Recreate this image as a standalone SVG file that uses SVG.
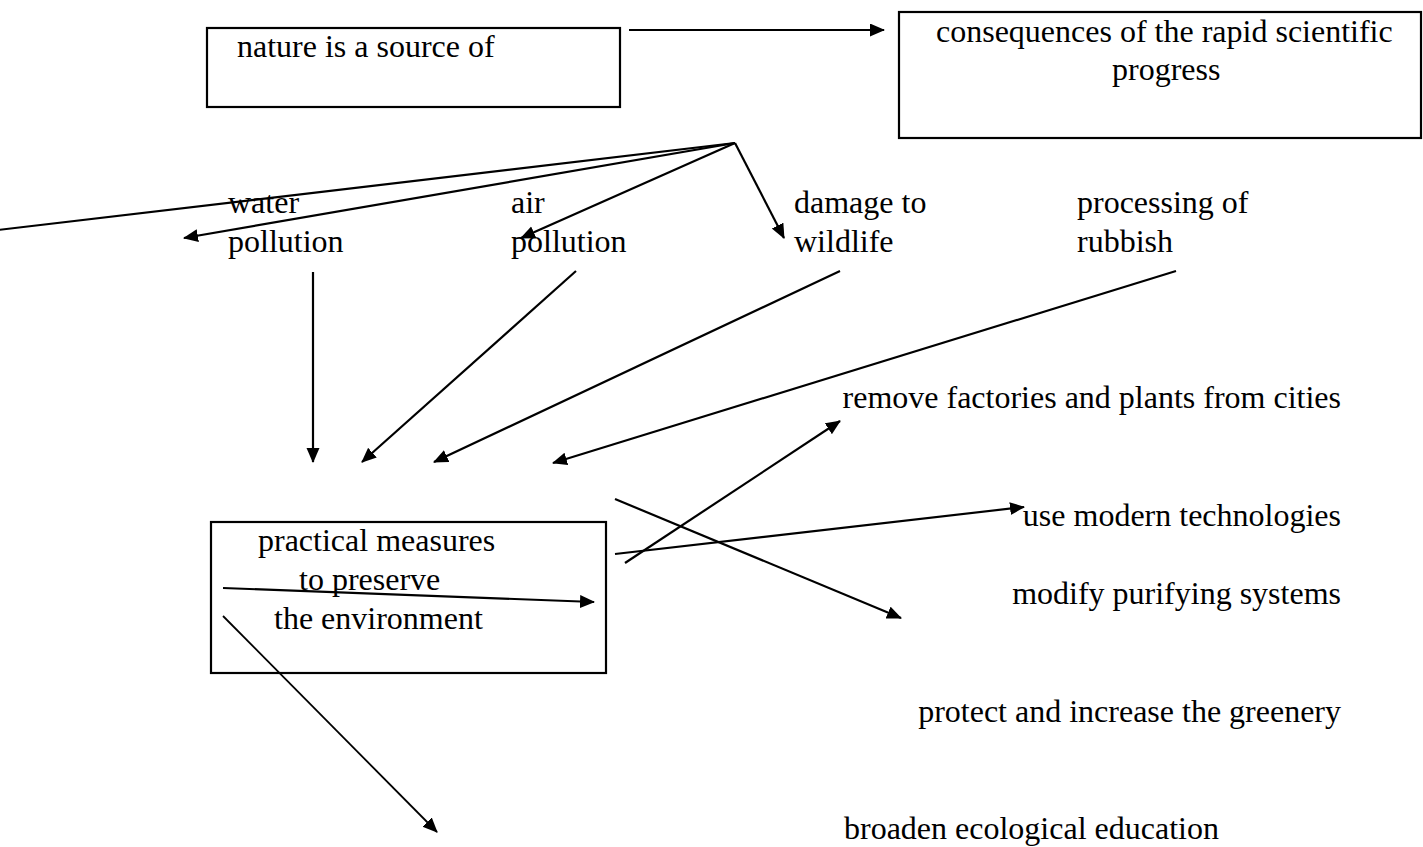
<svg xmlns="http://www.w3.org/2000/svg" width="1423" height="847" viewBox="0 0 1423 847">
<style>
text{font-family:"Liberation Serif","Times New Roman",serif;font-size:32px;fill:#000}
.box{fill:none;stroke:#000;stroke-width:2.2}
.c{fill:none;stroke:#000;stroke-width:2.2}
.end{text-anchor:end}
</style>
<defs>
<marker id="ah" markerUnits="userSpaceOnUse" markerWidth="16" markerHeight="14" refX="14" refY="6.5" orient="auto">
<path d="M0,0 L15,6.5 L0,13 z" fill="#000"/>
</marker>
</defs>
<rect width="1423" height="847" fill="#fff"/>
<g id="nature">
<rect class="box" x="207" y="28" width="413" height="79"/>
<text x="237" y="57">nature is a source of</text>
</g>
<g id="consequences">
<rect class="box" x="899" y="12" width="522" height="126"/>
<text x="936" y="42">consequences of the rapid scientific</text>
<text x="1112" y="80">progress</text>
</g>
<g id="water"><text x="228" y="213">water</text><text x="228" y="252">pollution</text></g>
<g id="air"><text x="511" y="213">air</text><text x="511" y="252">pollution</text></g>
<g id="wildlife"><text x="794" y="213">damage to</text><text x="794" y="252">wildlife</text></g>
<g id="rubbish"><text x="1077" y="213">processing of</text><text x="1077" y="252">rubbish</text></g>
<g id="measures">
<rect class="box" x="211" y="522" width="395" height="151"/>
<text x="258" y="551">practical measures</text>
<text x="299" y="590">to preserve</text>
<text x="274" y="629">the environment</text>
</g>
<g id="remove"><text class="end" x="1341" y="408">remove factories and plants from cities</text></g>
<g id="modern"><text class="end" x="1341" y="526">use modern technologies</text></g>
<g id="modify"><text class="end" x="1341" y="604">modify purifying systems</text></g>
<g id="greenery"><text class="end" x="1341" y="722">protect and increase the greenery</text></g>
<g id="education"><text x="844" y="839">broaden ecological education</text></g>
<g id="connectors">
<line class="c" x1="629" y1="30" x2="884" y2="30" marker-end="url(#ah)"/>
<line class="c" x1="735" y1="143" x2="-2" y2="230"/>
<line class="c" x1="735" y1="143" x2="184" y2="238" marker-end="url(#ah)"/>
<line class="c" x1="735" y1="143" x2="521" y2="238" marker-end="url(#ah)"/>
<line class="c" x1="735" y1="143" x2="784" y2="238" marker-end="url(#ah)"/>
<line class="c" x1="313" y1="272" x2="313" y2="462" marker-end="url(#ah)"/>
<line class="c" x1="576" y1="271" x2="362" y2="462" marker-end="url(#ah)"/>
<line class="c" x1="840" y1="271" x2="434" y2="462" marker-end="url(#ah)"/>
<line class="c" x1="1176" y1="271" x2="553" y2="463" marker-end="url(#ah)"/>
<line class="c" x1="223" y1="588" x2="594" y2="602" marker-end="url(#ah)"/>
<line class="c" x1="223" y1="616" x2="437" y2="832" marker-end="url(#ah)" style="stroke-width:1.8"/>
<line class="c" x1="615" y1="554" x2="1024" y2="507" marker-end="url(#ah)"/>
<line class="c" x1="625" y1="563" x2="840" y2="421" marker-end="url(#ah)"/>
<line class="c" x1="615" y1="499" x2="901" y2="618" marker-end="url(#ah)"/>
</g>
</svg>
